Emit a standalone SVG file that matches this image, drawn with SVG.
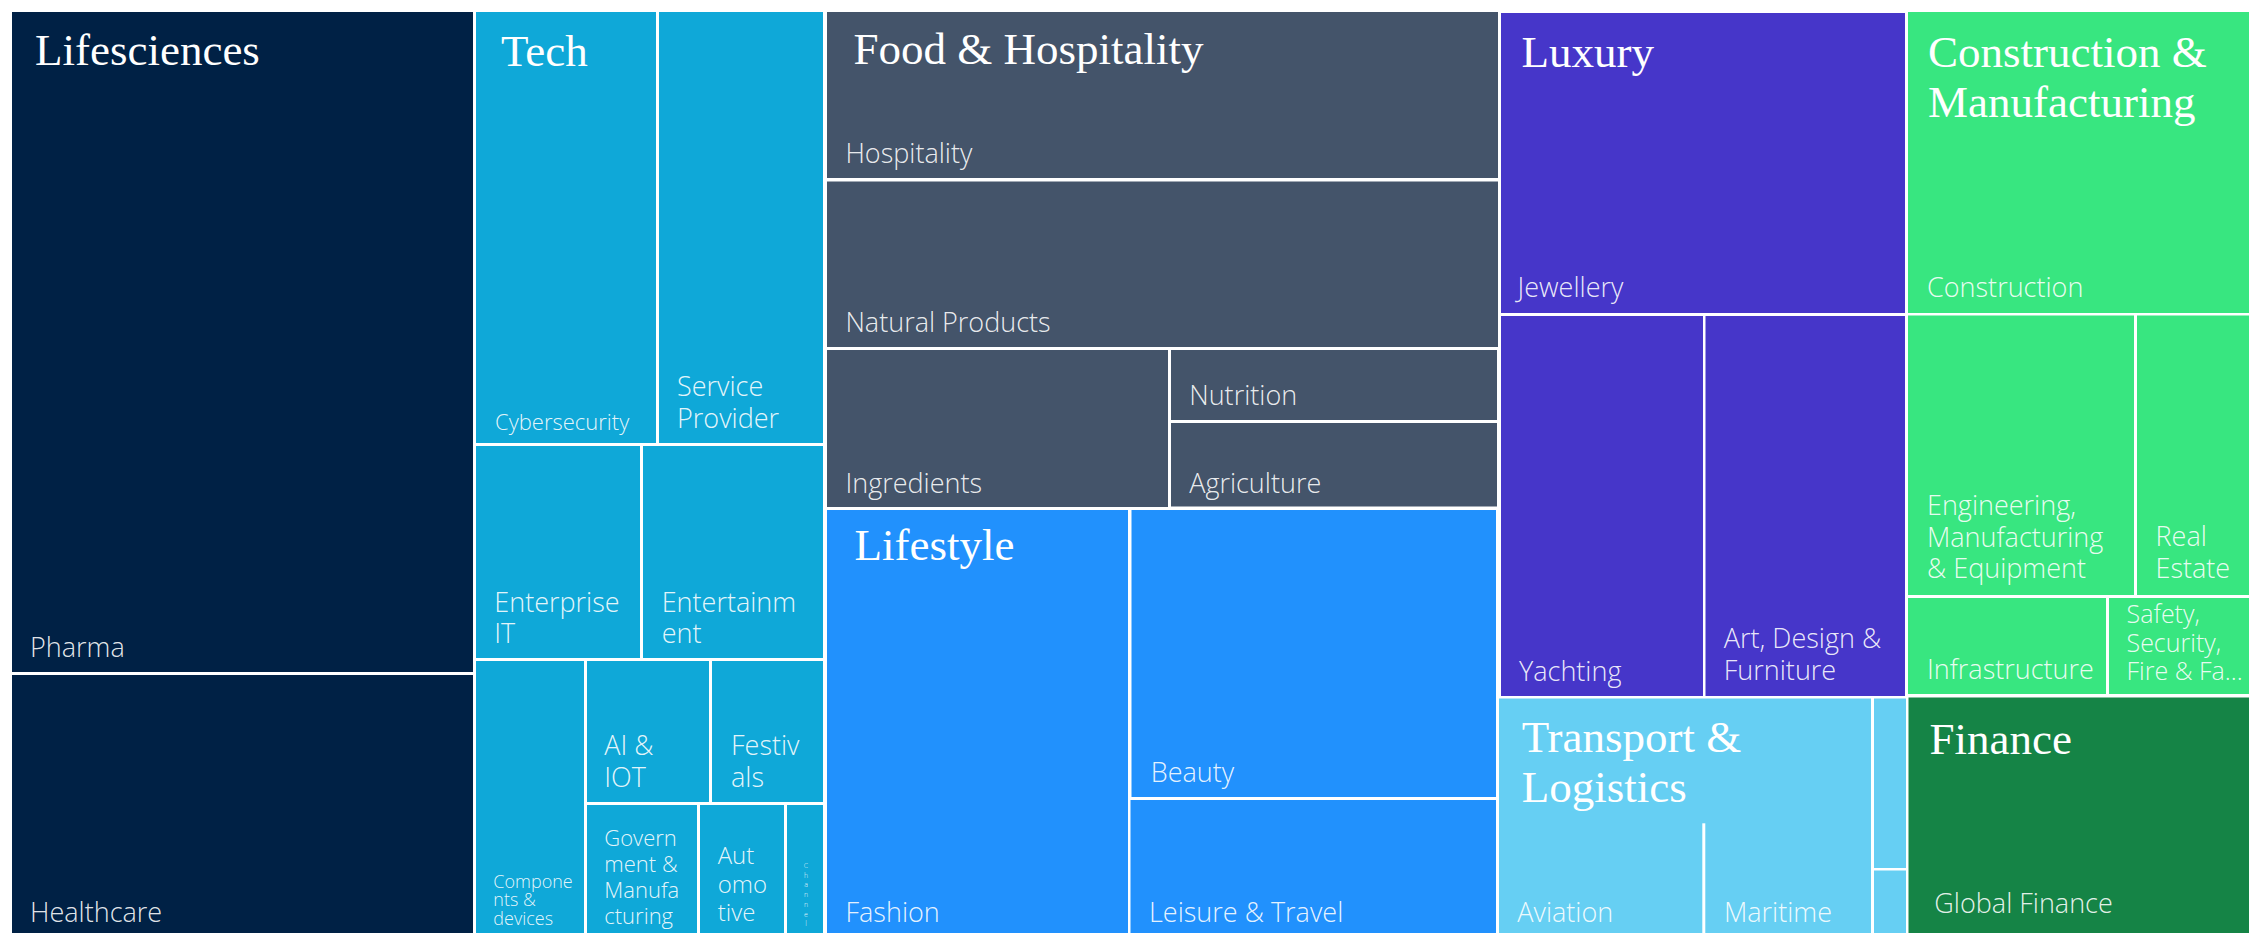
<svg xmlns="http://www.w3.org/2000/svg" width="2249" height="933" viewBox="0 0 2249 933">
<style>
.t{font-family:"Liberation Serif","Times New Roman",serif;font-size:45px;fill:#ffffff}
.s{font-family:"Open Sans","Noto Sans","Liberation Sans",sans-serif;font-weight:300;font-size:27px;fill:#ffffff;fill-opacity:0.9}
.ls{fill:#002145}
.te{fill:#0fa8d8}
.fo{fill:#44546a}
.li{fill:#2191fd}
.lu{fill:#4636c9}
.co{fill:#38e680}
.tr{fill:#66cff3}
.fi{fill:#158446}
</style>
<rect width="2249" height="933" fill="#ffffff"/>
<g id="lifesciences">
<rect class="ls" x="12" y="12" width="461" height="660"/>
<rect class="ls" x="12" y="675" width="461" height="258"/>
<text class="t" x="35" y="65">Lifesciences</text>
<text class="s" x="30" y="657">Pharma</text>
<text class="s" x="30" y="922">Healthcare</text>
</g>
<g id="tech">
<rect class="te" x="476" y="12" width="180" height="431"/>
<rect class="te" x="659" y="12" width="164" height="431"/>
<rect class="te" x="476" y="446" width="164" height="212"/>
<rect class="te" x="643" y="446" width="180" height="212"/>
<rect class="te" x="476" y="661" width="108" height="272"/>
<rect class="te" x="587" y="661" width="122" height="141"/>
<rect class="te" x="712" y="661" width="111" height="141"/>
<rect class="te" x="587" y="805" width="110" height="128"/>
<rect class="te" x="700" y="805" width="84" height="128"/>
<rect class="te" x="787" y="805" width="36" height="128"/>
<text class="t" x="501" y="65.5">Tech</text>
<text class="s" x="495" y="430" style="font-size:22px">Cybersecurity</text>
<text class="s" x="677" y="395.7">Service<tspan x="677" dy="32">Provider</tspan></text>
<text class="s" x="494.3" y="611.7">Enterprise<tspan x="494.3" dy="31">IT</tspan></text>
<text class="s" x="661.7" y="611.7">Entertainm<tspan x="661.7" dy="31">ent</tspan></text>
<text class="s" x="604.3" y="755">AI &amp;<tspan x="604.3" dy="31.7">IOT</tspan></text>
<text class="s" x="731" y="755">Festiv<tspan x="731" dy="31.7">als</tspan></text>
<text class="s" x="493.3" y="887.7" style="font-size:18px">Compone<tspan x="493.3" dy="18.5">nts &amp;</tspan><tspan x="493.3" dy="18.5">devices</tspan></text>
<text class="s" x="604.3" y="846" style="font-size:22px">Govern<tspan x="604.3" dy="26">ment &amp;</tspan><tspan x="604.3" dy="26">Manufa</tspan><tspan x="604.3" dy="25.5">cturing</tspan></text>
<text class="s" x="717.7" y="864" style="font-size:24px">Aut<tspan x="717.7" dy="28.5">omo</tspan><tspan x="717.7" dy="28.5">tive</tspan></text>
<text class="s" x="806" y="868" text-anchor="middle" style="font-size:7px">C<tspan x="806" dy="9.7">h</tspan><tspan x="806" dy="9.7">a</tspan><tspan x="806" dy="9.7">n</tspan><tspan x="806" dy="9.7">n</tspan><tspan x="806" dy="9.7">e</tspan><tspan x="806" dy="9.7">l</tspan></text>
</g>
<g id="food-hospitality">
<rect class="fo" x="827" y="12" width="671" height="166"/>
<rect class="fo" x="827" y="181.5" width="671" height="165.5"/>
<rect class="fo" x="827" y="350" width="341" height="157"/>
<rect class="fo" x="1171" y="350" width="326" height="70"/>
<rect class="fo" x="1171" y="423" width="326" height="83.5"/>
<text class="t" x="853.5" y="64">Food &amp; Hospitality</text>
<text class="s" x="845.4" y="163.3">Hospitality</text>
<text class="s" x="845.4" y="331.7">Natural Products</text>
<text class="s" x="845.4" y="492.7">Ingredients</text>
<text class="s" x="1189.2" y="405">Nutrition</text>
<text class="s" x="1189.2" y="492.7">Agriculture</text>
</g>
<g id="lifestyle">
<rect class="li" x="827" y="510" width="301" height="423"/>
<rect class="li" x="1131.5" y="510" width="364.5" height="287"/>
<rect class="li" x="1130.5" y="800" width="365.5" height="133"/>
<text class="t" x="854.5" y="560">Lifestyle</text>
<text class="s" x="845.5" y="921.7">Fashion</text>
<text class="s" x="1150.8" y="781.7">Beauty</text>
<text class="s" x="1149" y="921.7">Leisure &amp; Travel</text>
</g>
<g id="luxury">
<rect class="lu" x="1501" y="13" width="404" height="300"/>
<rect class="lu" x="1501" y="316" width="202" height="380"/>
<rect class="lu" x="1705.5" y="316" width="199.5" height="380"/>
<text class="t" x="1521.5" y="66.5">Luxury</text>
<text class="s" x="1517.6" y="296.7">Jewellery</text>
<text class="s" x="1519" y="680.7">Yachting</text>
<text class="s" x="1723.8" y="648.3">Art, Design &amp;<tspan x="1723.8" dy="31.7">Furniture</tspan></text>
</g>
<g id="transport-logistics">
<rect class="tr" x="1499" y="698.5" width="372" height="234.5"/>
<rect class="tr" x="1874" y="698.5" width="32" height="169.5"/>
<rect class="tr" x="1874" y="870.5" width="32" height="62.5"/>
<line x1="1703.8" y1="823.3" x2="1703.8" y2="933" stroke="#ffffff" stroke-width="3"/>
<text class="t" x="1521.7" y="751.5">Transport &amp;<tspan x="1521.7" dy="50.8">Logistics</tspan></text>
<text class="s" x="1517.3" y="921.7">Aviation</text>
<text class="s" x="1724" y="921.7">Maritime</text>
</g>
<g id="construction-manufacturing">
<rect class="co" x="1908" y="12" width="341" height="301"/>
<rect class="co" x="1908" y="315.5" width="226" height="279.5"/>
<rect class="co" x="2137" y="315.5" width="112" height="279.5"/>
<rect class="co" x="1908" y="598" width="198" height="96"/>
<rect class="co" x="2109" y="598" width="140" height="96"/>
<text class="t" x="1928" y="66.5">Construction &amp;<tspan x="1928" dy="50.8">Manufacturing</tspan></text>
<text class="s" x="1927" y="296.7">Construction</text>
<text class="s" x="1927" y="515">Engineering,<tspan x="1927" dy="31.7">Manufacturing</tspan><tspan x="1927" dy="31.6">&amp; Equipment</tspan></text>
<text class="s" x="2155.5" y="546">Real<tspan x="2155.5" dy="32.3">Estate</tspan></text>
<text class="s" x="1927" y="679.3">Infrastructure</text>
<text class="s" x="2126.5" y="622.7" style="font-size:25px">Safety,<tspan x="2126.5" dy="29">Security,</tspan><tspan x="2126.5" dy="28.3">Fire &amp; Fa...</tspan></text>
</g>
<g id="finance">
<rect class="fi" x="1908.5" y="697.5" width="340.5" height="235.5"/>
<text class="t" x="1929.5" y="754">Finance</text>
<text class="s" x="1934.3" y="913.3">Global Finance</text>
</g>
</svg>
